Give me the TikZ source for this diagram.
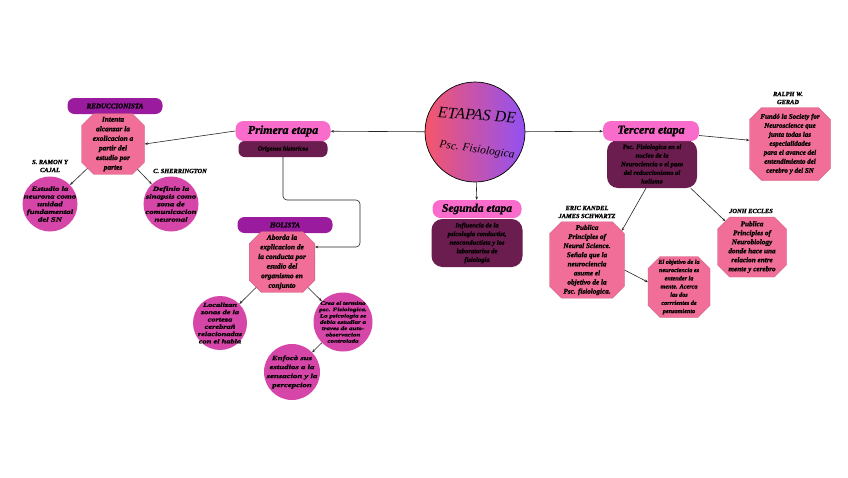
\documentclass[tikz,border=0pt]{standalone}
\usepackage{fontspec}
\setmainfont{Liberation Serif}
\newfontfamily\negrita[FakeBold=1.2]{Liberation Serif}
\newfontfamily\ancha[FakeBold=1.2,FakeStretch=1.35]{Liberation Serif}
\usetikzlibrary{arrows.meta,shapes.misc}
\definecolor{pillpink}{HTML}{FA6CCB}
\definecolor{plum}{HTML}{6C1D4F}
\definecolor{violeta}{HTML}{9B1B9E}
\definecolor{rosa}{HTML}{F06E98}
\definecolor{orchid}{HTML}{D646A8}
\definecolor{coral}{HTML}{F5566B}
\definecolor{lila}{HTML}{9251F2}
\newcommand{\letra}[2]{\fontsize{#1}{#2}\selectfont\negrita\bfseries\itshape}
\newcommand{\letrancha}[2]{\fontsize{#1}{#2}\selectfont\ancha\bfseries\itshape}

\begin{document}
\begin{tikzpicture}[x=1pt,y=-1pt,
pill/.style={fill=pillpink,rounded corners=8pt,minimum width=95pt,minimum height=20pt,inner sep=0pt,font=\letra{12}{12}},
tag/.style={fill=violeta,rounded corners=7pt,minimum width=95pt,minimum height=16pt,inner sep=0pt,font=\letra{7}{8}},
darkbox/.style={fill=plum,rounded corners=11pt,align=center,inner sep=0pt,font=\letra{6.6}{8.6}},
octa/.style={chamfered rectangle,chamfered rectangle xsep=9pt,fill=rosa,draw=rosa!85!black,line width=0.3pt,align=center,inner sep=0pt,font=\letra{7.4}{9.6}},
bubble/.style={circle,fill=orchid,align=center,inner sep=-6pt,font=\letrancha{6.5}{7.7}},
who/.style={align=center,inner sep=0pt,font=\letra{6.4}{8}},
edge/.style={-{Stealth[length=3.2pt,width=2.6pt]},draw=black!85,line width=0.6pt}]
\useasboundingbox[fill=white] (0,0) rectangle (848,477);
% centro
\node[circle,draw=black,line width=0.7pt,left color=coral,right color=lila,minimum size=100pt,inner sep=0pt] (etapas) at (475,132) {};
\node[inner sep=0pt,rotate=-4,font=\fontsize{16}{16}\selectfont\itshape] (titulo) at (477,115) {ETAPAS DE};
\node[inner sep=0pt,rotate=-8,font=\fontsize{11.5}{12}\selectfont\itshape] (subtitulo) at (477,150) {Psc. Fisiologica};
% primera etapa
\node[darkbox,minimum width=89pt,minimum height=16pt,rounded corners=6pt,font=\letra{6.3}{7}] (origenes) at (283,149) {Origenes historicos};
\node[pill] (primera) at (283,131) {Primera etapa};
\node[tag] (reduc) at (115,106) {REDUCCIONISTA};
\node[octa,minimum width=63pt,minimum height=60pt] (intenta) at (113,144) {Intenta\\alcanzar la\\exolicacion a\\partir del\\estudio por\\partes};
\node[who] (cajal) at (50,166) {S. RAMON Y\\CAJAL};
\node[who] (sherr) at (180,171) {C. SHERRINGTON};
\node[bubble,minimum size=55pt] (estudio) at (50,204) {Estudio la\\neurona como\\unidad\\fundamental\\del SN};
\node[bubble,minimum size=55pt] (definio) at (171,204) {Definio la\\sinapsis como\\zona de\\comunicacion\\neuronal};
\node[tag] (holista) at (285,225) {HOLISTA};
\node[octa,minimum width=63pt,minimum height=59pt] (aborda) at (282,262) {Aborda la\\explicacion de\\la conducta por\\esudio del\\organismo en\\conjunto};
\node[bubble,minimum size=54pt,font=\letrancha{6.2}{7.3}] (localizan) at (220,323) {Localizan\\zonas de la\\corteza\\cerebrañ\\relacionadas\\con el habla};
\node[bubble,minimum size=59pt,font=\letrancha{5.2}{6.3}] (crea) at (343,322) {Crea el termino\\psc. Fisiologica.\\La psicologia se\\debia estudiar a\\traves de auto-\\observacion\\controlada};
\node[bubble,minimum size=56pt,font=\letrancha{6.5}{9}] (enfoco) at (292,372) {Enfocò sus\\estudios a la\\sensacion y la\\percepcion};
% segunda etapa
\node[darkbox,minimum width=91pt,minimum height=48pt] (influencia) at (477,243) {Influencia de la\\psicologia conductist,\\neoconductista y los\\laboratorios de\\fisiologia};
\node[pill,minimum width=89pt,minimum height=18pt,font=\letra{11.5}{12}] (segunda) at (477,209) {Segunda etapa};
% tercera etapa
\node[darkbox,minimum width=90pt,minimum height=48pt] (psc) at (652,164) {Psc. Fisiologica en el\\nucleo de la\\Neurociencia o el paso\\del reduccionismo al\\holismo};
\node[pill,minimum width=96pt] (tercera) at (651,131) {Tercera etapa};
\node[who] (gerad) at (788,98) {RALPH W.\\GERAD};
\node[octa,minimum width=81pt,minimum height=73pt,font=\letra{7}{9}] (fundo) at (790,144) {Fundó la Society for\\Neuroscience que\\junta todas las\\especialidades\\para el avance del\\entendimiento del\\cerebro y del SN};
\node[who] (kandelname) at (587,212) {ERIC KANDEL\\JAMES SCHWARTZ};
\node[octa,minimum width=75pt,minimum height=74pt,font=\letra{7.2}{9.1}] (kandel) at (587,260) {Publica\\Principles of\\Neural Science.\\Señala que la\\neurociencia\\asume el\\objetivo de la\\Psc. fisiologica.};
\node[octa,minimum width=62pt,minimum height=61pt,font=\letra{6.2}{8.2}] (objetivo) at (679,287) {El objetivo de la\\neurociencia es\\entender la\\mente. Acerca\\las dos\\corrrientes de\\pensamiento};
\node[who] (ecclesname) at (751,211) {JONH ECCLES};
\node[octa,minimum width=69pt,minimum height=60pt,font=\letra{7.2}{9}] (eccles) at (752,247) {Publica\\Principles of\\Neurobiology\\donde hace una\\relacion entre\\mente y cerebro};
% conectores
\draw[edge] (etapas) -- (primera);
\draw[edge] (etapas) -- (segunda);
\draw[edge] (etapas) -- (tercera);
\draw[edge] (primera.west) -- (intenta.east);
\draw[edge] (intenta) -- (estudio);
\draw[edge] (intenta) -- (definio);
\coordinate (codo) at (360,200);
\draw[edge,rounded corners=4pt] (origenes.south) |- (codo) |- ([yshift=15pt]aborda.east);
\draw[edge] (aborda) -- (localizan);
\draw[edge] (aborda) -- (crea);
\draw[edge] (crea) -- (enfoco);
\draw[edge] (tercera) -- (fundo);
\draw[edge] (psc.-104) -- (kandel.40);
\draw[edge] (psc.-32) -- (eccles.136);
\draw[edge] (kandel.-15) -- (objetivo.171);
\end{tikzpicture}
\end{document}
